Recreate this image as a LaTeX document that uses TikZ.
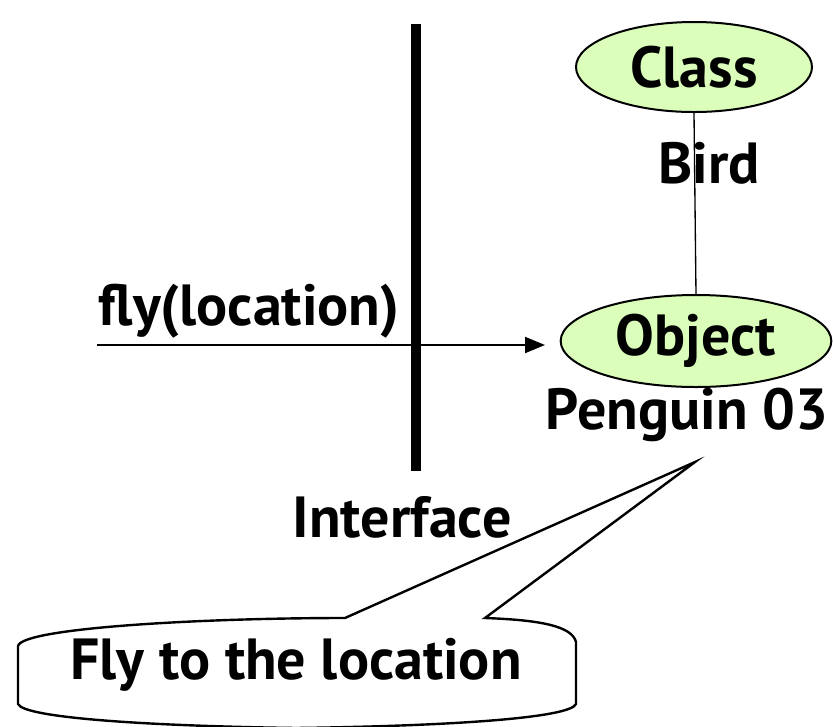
\documentclass[tikz,border=0pt]{standalone}
\usepackage{fontspec}
\setmainfont{PT Sans}
\usetikzlibrary{shapes.geometric,arrows.meta}
\definecolor{bubble}{HTML}{DBFFBB}
\tikzset{
  lbl/.style={font=\bfseries\fontsize{43.5}{50}\selectfont, inner sep=0pt},
  oval/.style={ellipse, draw, line width=1.5pt, fill=bubble, inner sep=0pt},
}
\begin{document}
\begin{tikzpicture}[x=0.75pt, y=-0.75pt]
\useasboundingbox (0,0) rectangle (833,726);
% interface bar
\coordinate (bartop) at (416,24);
\coordinate (barbot) at (416,471);
\draw[line width=7.5pt] (bartop) -- (barbot);
% class and object
\node[oval, minimum width=177pt, minimum height=67.5pt, lbl] (cls) at (694,67) {Class};
\node[oval, minimum width=203pt, minimum height=69pt, lbl] (obj) at (696,341) {Object};
\draw[line width=1pt] (cls.south) -- (obj.north);
\node[lbl] (bird) at (709,163) {Bird};
\node[lbl] (peng) at (687,415) {Penguin 03};
\node[lbl] (intf) at (402,517) {Interface};
% message
\coordinate (src) at (97,345);
\coordinate (dst) at (545,345);
\draw[line width=1.5pt, -{Triangle[length=15pt,width=12pt]}] (src) -- (dst);
\node[lbl] (msg) at (249,311) {fly(location)};
% callout
\coordinate (tip) at (695,462);
\draw[line width=1.8pt, fill=white, line join=miter]
  (345,618) -- (tip) -- (485,618)
  .. controls (540,620) and (572,626) .. (576,642)
  -- (576,704)
  .. controls (570,718) and (450,726) .. (296,728)
  .. controls (150,726) and (24,718) .. (18,704)
  -- (18,646)
  .. controls (22,628) and (200,618) .. (345,618) -- cycle;
\node[lbl] (note) at (296,665) {Fly to the location};
\end{tikzpicture}
\end{document}
